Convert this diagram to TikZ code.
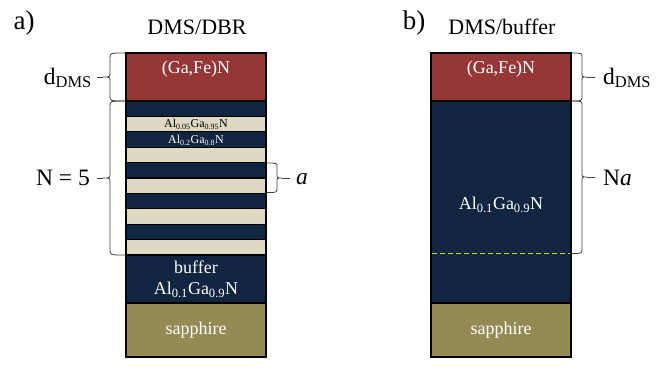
\documentclass[tikz,border=0pt]{standalone}
\usepackage{fontspec}
\setmainfont{Liberation Serif}
\definecolor{dmsred}{HTML}{963737}
\definecolor{navy}{HTML}{112440}
\definecolor{beige}{HTML}{DDD9C3}
\definecolor{sapph}{HTML}{948A54}
\definecolor{dashy}{HTML}{C9D62A}
\begin{document}
\begin{tikzpicture}[x=1pt,y=-1pt,
  lay/.style={draw=black, line width=1.2pt},
  wlab/.style={text=white, inner sep=0pt, font=\fontsize{18}{20}\selectfont},
  smlab/.style={inner sep=0pt, font=\fontsize{12}{13}\selectfont},
  title/.style={inner sep=0pt, font=\fontsize{22}{24}\selectfont},
  panel/.style={inner sep=0pt, font=\fontsize{27}{29}\selectfont},
  side/.style={inner sep=0pt, font=\fontsize{23.5}{25}\selectfont},
  brc/.style={draw=black!75, line width=0.8pt}]
\useasboundingbox (0,0) rectangle (664,373);
% ---------- left stack ----------
\filldraw[lay, fill=dmsred] (126,53) rectangle (266,101);
\foreach \i in {0,...,4} {
  \filldraw[lay, fill=navy] (126,{101+30.8*\i}) rectangle (266,{116.4+30.8*\i});
  \filldraw[lay, fill=beige] (126,{116.4+30.8*\i}) rectangle (266,{131.8+30.8*\i});
}
\filldraw[lay, fill=navy] (126,255) rectangle (266,303);
\filldraw[lay, fill=sapph] (126,303) rectangle (266,357);
% ---------- right stack ----------
\filldraw[lay, fill=dmsred] (431,53) rectangle (571,101);
\filldraw[lay, fill=navy] (431,101) rectangle (571,303);
\filldraw[lay, fill=sapph] (431,303) rectangle (571,357);
\draw[dashy, line width=1.6pt, dash pattern=on 5pt off 3pt] (432,253.5) -- (570,253.5);
% ---------- titles ----------
\node[panel] (pa) at (24,23) {a)};
\node[title] (ta) at (197,27) {DMS/DBR};
\node[panel] (pb) at (414,23) {b)};
\node[title] (tb) at (502,27) {DMS/buffer};
% ---------- layer labels ----------
\node[wlab] (gfa) at (196,69) {(Ga,Fe)N};
\node[smlab] (l1) at (196,124) {Al\textsubscript{0.05}Ga\textsubscript{0.95}N};
\node[smlab, text=white] (l2) at (196,140) {Al\textsubscript{0.2}Ga\textsubscript{0.8}N};
\node[wlab] (bufa) at (196,267) {buffer};
\node[wlab] (alga) at (196,290) {Al\textsubscript{0.1}Ga\textsubscript{0.9}N};
\node[wlab] (sapa) at (196,330) {sapphire};
\node[wlab] (gfb) at (501,69) {(Ga,Fe)N};
\node[wlab] (algb) at (501,205) {Al\textsubscript{0.1}Ga\textsubscript{0.9}N};
\node[wlab] (sapb) at (501,330) {sapphire};
% ---------- braces ----------
% left dDMS
\draw[brc] (125,53) .. controls (110,53) .. (110,58) -- (110,72) .. controls (110,77) .. (103,77)
  .. controls (110,77) .. (110,82) -- (110,96) .. controls (110,101) .. (125,101);
\coordinate (tdl) at (97,77);
\draw[brc] (103,77) -- (tdl);
\node[side, anchor=east] (ddl) at (92,78) {d\textsubscript{DMS}};
% left N=5
\draw[brc] (125,101) .. controls (110,101) .. (110,106) -- (110,173) .. controls (110,178) .. (103,178)
  .. controls (110,178) .. (110,183) -- (110,250) .. controls (110,255) .. (125,255);
\coordinate (tnl) at (97,178);
\draw[brc] (103,178) -- (tnl);
\node[side, anchor=east] (nl) at (90,178) {N = 5};
% a brace
\draw[brc] (267,163) .. controls (277,163) .. (277,167) -- (277,174) .. controls (277,178) .. (282,178)
  .. controls (277,178) .. (277,182) -- (277,188) .. controls (277,192.5) .. (267,192.5);
\coordinate (tal) at (290,178);
\draw[brc] (282,178) -- (tal);
\node[side, anchor=west] (al) at (296,179) {\textit{a}};
% right dDMS
\draw[brc] (572,53) .. controls (582,53) .. (582,58) -- (582,72) .. controls (582,77) .. (587,77)
  .. controls (582,77) .. (582,82) -- (582,96) .. controls (582,101) .. (572,101);
\coordinate (tdr) at (595,77);
\draw[brc] (587,77) -- (tdr);
\node[side, anchor=west] (ddr) at (603,78) {d\textsubscript{DMS}};
% right Na
\draw[brc] (572,101) .. controls (582,101) .. (582,106) -- (582,172) .. controls (582,177) .. (587,177)
  .. controls (582,177) .. (582,182) -- (582,248.5) .. controls (582,253.5) .. (572,253.5);
\coordinate (tnr) at (595,177);
\draw[brc] (587,177) -- (tnr);
\node[side, anchor=west] (nr) at (603,178) {N\textit{a}};
\end{tikzpicture}
\end{document}
